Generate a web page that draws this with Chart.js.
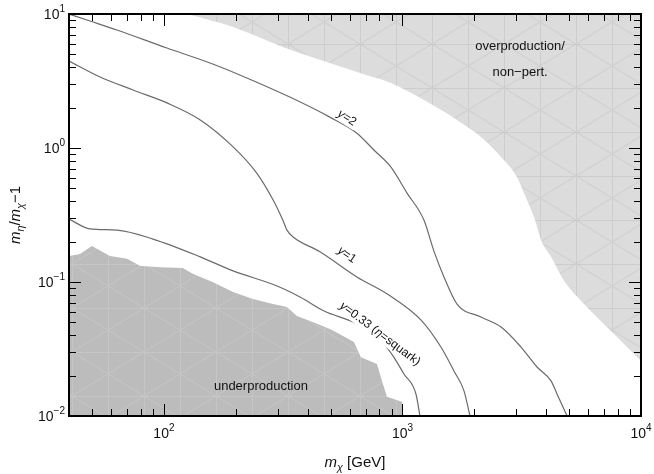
<!DOCTYPE html>
<html>
<head>
<meta charset="utf-8">
<script src="https://cdn.jsdelivr.net/npm/chart.js@4.4.1/dist/chart.umd.min.js"></script>
<style>
  html, body { margin: 0; padding: 0; background: #fff; }
  #wrap { width: 654px; height: 474px; }
</style>
</head>
<body>
<div id="wrap"><canvas id="c" width="654" height="474"></canvas></div>
<script>
// axis ranges and decade tick labels
const xMin = 40, xMax = 10000;
const yMin = 0.01, yMax = 10;
const xDecades = [100, 1000, 10000];
const yDecades = [0.01, 0.1, 1, 10];
// tick marks (mantissas 1..9 inside each decade)
const xTicks = [40, 50, 60, 70, 80, 90, 100, 200, 300, 400, 500, 600, 700, 800, 900, 1000, 2000, 3000, 4000, 5000, 6000, 7000, 8000, 9000, 10000];
const yTicks = [0.01, 0.02, 0.03, 0.04, 0.05, 0.06, 0.07, 0.08, 0.09, 0.1, 0.2, 0.3, 0.4, 0.5, 0.6, 0.7, 0.8, 0.9, 1, 2, 3, 4, 5, 6, 7, 8, 9, 10];

// contour y=2
const y2X = [40, 49, 63.5, 103, 156, 208, 337, 496, 644, 759, 895, 1045, 1230, 1355, 1493, 1693, 2134, 2590, 3140, 3665, 4196, 4446, 4900];
const y2Y = [10, 8.87, 7.6, 5.57, 4.31, 3.51, 2.40, 1.70, 1.29, 0.966, 0.721, 0.461, 0.290, 0.170, 0.109, 0.0685, 0.0548, 0.0461, 0.0327, 0.0232, 0.0183, 0.0146, 0.01];

// contour y=1
const y1X = [40, 54, 74.2, 103, 142, 195, 245, 287, 315, 328, 348, 451, 644, 877, 1197, 1450, 1643, 1811, 1919];
const y1Y = [4.46, 3.39, 2.71, 2.17, 1.62, 1.02, 0.65, 0.409, 0.290, 0.244, 0.217, 0.168, 0.109, 0.080, 0.052, 0.0327, 0.0217, 0.0154, 0.01];

// contour y=0.33 (eta = squark)
const y033X = [40, 49, 63.5, 90, 142, 195, 298, 372, 469, 644, 836, 920, 1014, 1139, 1184];
const y033Y = [0.295, 0.249, 0.244, 0.209, 0.154, 0.121, 0.0933, 0.0773, 0.0608, 0.0486, 0.0344, 0.0275, 0.0206, 0.0146, 0.01];

// edge of overproduction / non-pert. region (shaded up to the top)
const overX = [125, 195, 315, 496, 644, 895, 1230, 1693, 2134, 2590, 3020, 3230, 3560, 3810, 4196, 4756, 5770, 7200, 8490, 10000];
const overY = [10, 8.0, 5.68, 4.31, 3.69, 3.05, 2.28, 1.62, 1.21, 0.857, 0.608, 0.462, 0.305, 0.206, 0.154, 0.102, 0.0685, 0.0461, 0.0344, 0.0257];

// edge of underproduction region (shaded down to the bottom)
const underX = [40, 44.5, 49.9, 59.4, 70, 79.3, 96, 120, 132, 160, 195, 236, 287, 328, 361, 421, 496, 516, 626, 670, 782, 820, 861, 1000];
const underY = [0.156, 0.162, 0.186, 0.156, 0.149, 0.132, 0.129, 0.127, 0.115, 0.100, 0.0842, 0.0746, 0.0685, 0.0651, 0.0557, 0.0502, 0.0446, 0.0431, 0.0357, 0.0275, 0.0244, 0.0183, 0.0139, 0.0127];

// text labels placed in data coordinates
const curveLabels = [
  { x: 585, y: 1.675, angle: 33, parts: [{ t: 'y', it: true }, { t: '=2' }] },
  { x: 585, y: 0.159, angle: 35, parts: [{ t: 'y', it: true }, { t: '=1' }] },
  { x: 805, y: 0.041, angle: 37, parts: [{ t: 'y', it: true }, { t: '=0.33 (' }, { t: 'η', it: true }, { t: '=squark)' }] }
];
const regionLabels = [
  { x: 3112, y: 5.68, text: 'overproduction/' },
  { x: 3112, y: 3.69, text: 'non\u2212pert.' },
  { x: 255, y: 0.0165, text: 'underproduction' }
];

const FONT = '"Liberation Sans", Arial, Helvetica, sans-serif';
const pts = (xs, ys) => xs.map((x, i) => ({ x: x, y: ys[i] }));

// faint mesh texture like the reference shading
function meshPattern(bg, line) {
  const w = 72, h = 44;
  const c = document.createElement('canvas');
  c.width = w; c.height = h;
  const g = c.getContext('2d');
  g.fillStyle = bg; g.fillRect(0, 0, w, h);
  g.strokeStyle = line; g.lineWidth = 1;
  g.beginPath();
  g.moveTo(0.5, 0); g.lineTo(0.5, h);
  g.moveTo(0, 0.5); g.lineTo(w, 0.5);
  g.moveTo(w / 2 + 0.5, 0); g.lineTo(w / 2 + 0.5, h);
  g.moveTo(0, 0); g.lineTo(w, h);
  g.moveTo(w, 0); g.lineTo(0, h);
  g.stroke();
  return g.createPattern(c, 'repeat');
}

// draw a run of mixed italic / subscript text, centred on (x, y)
function richText(ctx, parts, x, y, size) {
  const fontOf = p => (p.it ? 'italic ' : '') + (p.sub ? size * 0.72 : size) + 'px ' + FONT;
  let w = 0;
  parts.forEach(p => { ctx.font = fontOf(p); p.w = ctx.measureText(p.t).width; w += p.w; });
  let cx = x - w / 2;
  ctx.textAlign = 'left';
  ctx.textBaseline = 'middle';
  parts.forEach(p => {
    ctx.font = fontOf(p);
    ctx.fillText(p.t, cx, y + (p.sub ? size * 0.3 : 0));
    cx += p.w;
  });
  return w;
}

const decorations = {
  id: 'decorations',
  afterDatasetsDraw(chart) {
    const ctx = chart.ctx;
    const xs = chart.scales.x, ys = chart.scales.y;
    ctx.save();

    // line labels with a white gap behind them
    curveLabels.forEach(l => {
      const px = xs.getPixelForValue(l.x), py = ys.getPixelForValue(l.y);
      ctx.save();
      ctx.translate(px, py);
      ctx.rotate(l.angle * Math.PI / 180);
      let w = 0;
      l.parts.forEach(p => { ctx.font = (p.it ? 'italic ' : '') + '12px ' + FONT; w += ctx.measureText(p.t).width; });
      ctx.fillStyle = '#fff';
      ctx.fillRect(-w / 2 - 2, -7, w + 4, 14);
      ctx.fillStyle = '#111';
      richText(ctx, l.parts, 0, 0, 12);
      ctx.restore();
    });

    // region labels
    ctx.fillStyle = '#111';
    ctx.font = '13px ' + FONT;
    ctx.textAlign = 'center';
    ctx.textBaseline = 'middle';
    regionLabels.forEach(l => {
      ctx.fillText(l.text, xs.getPixelForValue(l.x), ys.getPixelForValue(l.y));
    });
    ctx.restore();
  },
  afterDraw(chart) {
    const ctx = chart.ctx;
    const a = chart.chartArea;
    const xs = chart.scales.x, ys = chart.scales.y;
    const L = Math.round(a.left), R = Math.round(a.right), T = Math.round(a.top), B = Math.round(a.bottom);
    ctx.save();
    ctx.fillStyle = '#000';

    // inward ticks on all four sides
    xTicks.forEach(v => {
      const px = Math.round(xs.getPixelForValue(v));
      const len = xDecades.indexOf(v) >= 0 ? 12 : 7;
      ctx.fillRect(px, B - len, 1, len);
      ctx.fillRect(px, T, 1, len);
    });
    yTicks.forEach(v => {
      const py = Math.round(ys.getPixelForValue(v));
      const len = yDecades.indexOf(v) >= 0 ? 12 : 7;
      ctx.fillRect(L, py, len, 1);
      ctx.fillRect(R - len, py, len, 1);
    });

    // frame
    ctx.fillRect(L - 1, T - 1, R - L + 2, 2);
    ctx.fillRect(L - 1, B - 1, R - L + 2, 2);
    ctx.fillRect(L - 1, T - 1, 2, B - T + 2);
    ctx.fillRect(R - 1, T - 1, 2, B - T + 2);

    // decade tick labels as 10 with a raised exponent
    ctx.fillStyle = '#111';
    const base = 14, sup = 10;
    ctx.textAlign = 'left'; ctx.textBaseline = 'middle';
    xDecades.forEach(v => {
      const px = xs.getPixelForValue(v);
      const e = String(Math.round(Math.log10(v))).replace('-', '\u2212');
      ctx.font = base + 'px ' + FONT; const w1 = ctx.measureText('10').width;
      ctx.font = sup + 'px ' + FONT; const w2 = ctx.measureText(e).width;
      const x0 = px - (w1 + w2) / 2;
      ctx.font = base + 'px ' + FONT; ctx.fillText('10', x0, B + 18);
      ctx.font = sup + 'px ' + FONT; ctx.fillText(e, x0 + w1, B + 12);
    });
    yDecades.forEach(v => {
      const py = ys.getPixelForValue(v);
      const e = String(Math.round(Math.log10(v))).replace('-', '\u2212');
      ctx.font = sup + 'px ' + FONT; const w2 = ctx.measureText(e).width;
      ctx.font = base + 'px ' + FONT; const w1 = ctx.measureText('10').width;
      const xr = L - 4;
      ctx.fillText('10', xr - w2 - w1, py + 1);
      ctx.font = sup + 'px ' + FONT; ctx.fillText(e, xr - w2, py - 5);
    });

    // axis titles
    richText(ctx, [{ t: 'm', it: true }, { t: 'χ', it: true, sub: true }, { t: ' [GeV]' }], (L + R) / 2, 463, 15);
    ctx.save();
    ctx.translate(16, (T + B) / 2);
    ctx.rotate(-Math.PI / 2);
    richText(ctx, [{ t: 'm', it: true }, { t: 'η', it: true, sub: true }, { t: '/' }, { t: 'm', it: true }, { t: 'χ', it: true, sub: true }, { t: '\u22121' }], 0, 0, 15);
    ctx.restore();

    ctx.restore();
  }
};

const curveStyle = { borderColor: '#6b6b6b', borderWidth: 1.2, pointRadius: 0, fill: false, cubicInterpolationMode: 'monotone', order: 1 };

new Chart(document.getElementById('c'), {
  type: 'line',
  data: {
    datasets: [
      Object.assign({ label: 'y=2', data: pts(y2X, y2Y) }, curveStyle),
      Object.assign({ label: 'y=1', data: pts(y1X, y1Y) }, curveStyle),
      Object.assign({ label: 'y=0.33', data: pts(y033X, y033Y) }, curveStyle),
      { label: 'overproduction', data: pts(overX, overY), borderWidth: 0, borderColor: 'rgba(0,0,0,0)',
        backgroundColor: meshPattern('#dcdcdc', '#cdcdcd'), pointRadius: 0, fill: 'end',
        cubicInterpolationMode: 'monotone', order: 5 },
      { label: 'underproduction', data: pts(underX, underY), borderWidth: 0, borderColor: 'rgba(0,0,0,0)',
        backgroundColor: meshPattern('#bcbcbc', '#c6c6c6'), pointRadius: 0, fill: 'start', tension: 0, order: 5 }
    ]
  },
  options: {
    responsive: false,
    animation: false,
    layout: { padding: { left: 0, right: 13, top: 14, bottom: 0 } },
    plugins: { legend: { display: false }, tooltip: { enabled: false } },
    scales: {
      x: {
        type: 'logarithmic', min: xMin, max: xMax,
        grid: { display: false }, border: { display: false },
        ticks: { display: false },
        afterFit: s => { s.height = 58; }
      },
      y: {
        type: 'logarithmic', min: yMin, max: yMax,
        grid: { display: false }, border: { display: false },
        ticks: { display: false },
        afterFit: s => { s.width = 69; }
      }
    }
  },
  plugins: [decorations]
});
</script>
</body>
</html>
